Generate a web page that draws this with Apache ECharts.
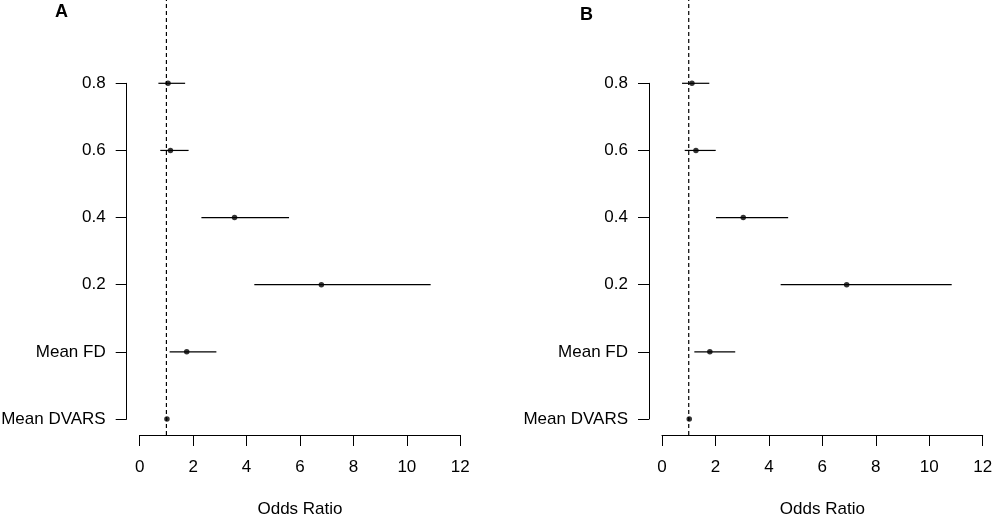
<!DOCTYPE html>
<html>
<head>
<meta charset="utf-8">
<script src="https://cdn.jsdelivr.net/npm/echarts@6/dist/echarts.min.js"></script>
<style>
  html, body { margin: 0; padding: 0; background: #fff; }
  #chart { width: 996px; height: 520px; }
</style>
</head>
<body>
<div id="chart"></div>
<script>
// rows from bottom to top
const rowLabels = ['Mean DVARS', 'Mean FD', '0.2', '0.4', '0.6', '0.8'];
const xTicks = [0, 2, 4, 6, 8, 10, 12];

// panel A
const orA = [1.02, 1.76, 6.80, 3.55, 1.15, 1.06];
const loA = [0.99, 1.12, 4.29, 2.31, 0.77, 0.70];
const hiA = [1.05, 2.87, 10.89, 5.59, 1.83, 1.70];

// panel B
const orB = [1.02, 1.79, 6.91, 3.04, 1.27, 1.12];
const loB = [0.99, 1.21, 4.44, 2.02, 0.85, 0.75];
const hiB = [1.05, 2.74, 10.84, 4.72, 2.01, 1.77];

const refLine = 1;
const FONT = 'Liberation Sans, Arial, sans-serif';

function rowsOf(or, lo, hi) {
  return or.map((v, i) => [lo[i], hi[i], v, i + 1]);
}

function dataGrid(left, right) {
  return { left: left, right: right, top: 83.3, bottom: 101, outerBoundsMode: 'none' };
}
function refGrid(left, right) {
  return { left: left, right: right, top: 0, bottom: 85, outerBoundsMode: 'none' };
}

function dataXAxis(gridIndex) {
  return {
    gridIndex: gridIndex,
    type: 'value',
    min: 0,
    max: 12,
    interval: 2,
    position: 'bottom',
    offset: 16,
    name: 'Odds Ratio',
    nameLocation: 'middle',
    nameGap: 66,
    nameTextStyle: { color: '#000', fontSize: 17, fontFamily: FONT },
    axisLine: { show: true, onZero: false, lineStyle: { color: '#000', width: 1 } },
    axisTick: { show: true, length: 11, lineStyle: { color: '#000', width: 1 } },
    axisLabel: { margin: 24, color: '#000', fontSize: 17, fontFamily: FONT },
    splitLine: { show: false }
  };
}
function dataYAxis(gridIndex) {
  return {
    gridIndex: gridIndex,
    type: 'value',
    min: 1,
    max: 6,
    interval: 1,
    position: 'left',
    offset: 13,
    axisLine: { show: true, onZero: false, lineStyle: { color: '#000', width: 1 } },
    axisTick: { show: true, length: 11, lineStyle: { color: '#000', width: 1 } },
    axisLabel: {
      margin: 21,
      color: '#000',
      fontSize: 17,
      fontFamily: FONT,
      formatter: v => rowLabels[v - 1] || ''
    },
    splitLine: { show: false }
  };
}
function hiddenAxis(gridIndex, min, max) {
  return { gridIndex: gridIndex, type: 'value', min: min, max: max, show: false };
}

function ciSeries(xi, yi, rows) {
  return {
    type: 'custom',
    xAxisIndex: xi,
    yAxisIndex: yi,
    data: rows,
    clip: false,
    renderItem: function (params, api) {
      const a = api.coord([api.value(0), api.value(3)]);
      const b = api.coord([api.value(1), api.value(3)]);
      return {
        type: 'line',
        shape: { x1: a[0], y1: a[1], x2: b[0], y2: b[1] },
        style: { stroke: '#000', lineWidth: 1.2 }
      };
    },
    silent: true,
    z: 3
  };
}
function pointSeries(xi, yi, or) {
  return {
    type: 'scatter',
    xAxisIndex: xi,
    yAxisIndex: yi,
    data: or.map((v, i) => [v, i + 1]),
    symbol: 'circle',
    symbolSize: 5.5,
    itemStyle: { color: '#000' },
    silent: true,
    clip: false,
    z: 4
  };
}
function refSeries(xi, yi) {
  return {
    type: 'line',
    xAxisIndex: xi,
    yAxisIndex: yi,
    data: [[refLine, 0], [refLine, 1]],
    symbol: 'none',
    lineStyle: { color: '#000', width: 1.2, type: [4, 3] },
    silent: true,
    z: 2
  };
}

const chart = echarts.init(document.getElementById('chart'));
chart.setOption({
  animation: false,
  backgroundColor: '#fff',
  title: [
    { text: 'A', left: 55, top: 3, padding: 0, textStyle: { fontSize: 18, fontWeight: 'bold', color: '#000', fontFamily: FONT } },
    { text: 'B', left: 580, top: 6, padding: 0, textStyle: { fontSize: 18, fontWeight: 'bold', color: '#000', fontFamily: FONT } }
  ],
  grid: [
    dataGrid(139.7, 535.7),
    refGrid(139.7, 535.7),
    dataGrid(662, 13.3),
    refGrid(662, 13.3)
  ],
  xAxis: [
    dataXAxis(0),
    hiddenAxis(1, 0, 12),
    dataXAxis(2),
    hiddenAxis(3, 0, 12)
  ],
  yAxis: [
    dataYAxis(0),
    hiddenAxis(1, 0, 1),
    dataYAxis(2),
    hiddenAxis(3, 0, 1)
  ],
  series: [
    refSeries(1, 1),
    ciSeries(0, 0, rowsOf(orA, loA, hiA)),
    pointSeries(0, 0, orA),
    refSeries(3, 3),
    ciSeries(2, 2, rowsOf(orB, loB, hiB)),
    pointSeries(2, 2, orB)
  ]
});
</script>
</body>
</html>
